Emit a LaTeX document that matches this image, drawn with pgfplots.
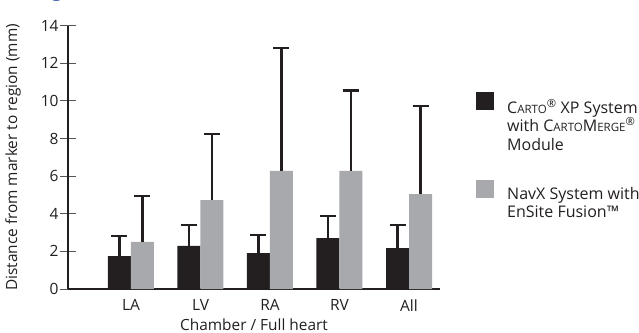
\documentclass[border=0pt]{standalone}
\usepackage{pgfplots}
\pgfplotsset{compat=1.18}
\usepackage{fontspec}
\setmainfont{Open Sans}
\definecolor{barblack}{HTML}{231F20}
\definecolor{bargray}{HTML}{A7A9AC}
\definecolor{txt}{HTML}{231F20}
\definecolor{tickc}{HTML}{555555}
\definecolor{titleblue}{HTML}{1B3F94}
\newcommand{\fsc}[2]{#1{\fontsize{11.5bp}{12bp}\selectfont #2}}
\newcommand{\tfont}{\fontsize{15.5bp}{17bp}\selectfont}
\pgfplotsset{myerr/.style={error bars/.cd, y dir=plus, y explicit,
  error bar style={line width=2.5bp, color=barblack},
  error mark options={rotate=90, mark size=8bp, line width=2.2bp, color=barblack}}}
\begin{document}
\begin{tikzpicture}
\begin{axis}[
  at={(68bp,44bp)}, anchor=south west,
  scale only axis, width=372bp, height=263.3bp,
  xmin=-0.906, xmax=4.446, ymin=0, ymax=14,
  axis lines=left, axis line style={-, line width=2.5bp, color=barblack},
  ybar=0pt, bar width=23bp,
  xtick={0,1,2,3,4}, xticklabels={LA,LV,RA,RV,All},
  major x tick style={draw=none},
  ytick={0,2,...,14},
  tick align=center, major tick length=16bp,
  major y tick style={line width=0.9bp, color=tickc},
  every tick label/.style={font=\tfont, color=txt},
  /pgf/number format/assume math mode=true,
  every x tick label/.append style={font=\tfont, color=txt, yshift=1bp},
  every y tick label/.append style={font=\tfont, color=txt, xshift=2bp},
  xlabel={Chamber / Full heart},
  ylabel={Distance from marker to region (mm)},
  every axis x label/.append style={font=\fontsize{15.4bp}{17bp}\selectfont, text=txt, yshift=-1bp},
  every axis y label/.append style={font=\fontsize{15.4bp}{17bp}\selectfont, text=txt, yshift=13bp},
  clip=false,
  legend style={draw=none, fill=none, at={(1,1)}, anchor=north west,
    xshift=33bp, yshift=-64bp,
    font=\fontsize{16bp}{18.5bp}\selectfont, text=txt,
    nodes={align=left, anchor=north west}, row sep=26bp,
    /tikz/every odd column/.append style={column sep=11bp}},
  legend cell align=left,
  legend image code/.code={\fill[#1] (0bp,-13bp) rectangle (18bp,5bp);},
]
\addplot[fill=barblack, draw=none, myerr] coordinates {
  (0,1.75) +- (0,1.08)
  (1,2.29) +- (0,1.13)
  (2,1.91) +- (0,0.98)
  (3,2.70) +- (0,1.20)
  (4,2.18) +- (0,1.22)
};
\addlegendentry{\fsc{C}{ARTO}\textsuperscript{®} XP System\\with \fsc{C}{ARTO}\fsc{M}{ERGE}\textsuperscript{®}\\Module}
\addplot[fill=bargray, draw=none, myerr] coordinates {
  (0,2.50) +- (0,2.45)
  (1,4.73) +- (0,3.51)
  (2,6.28) +- (0,6.52)
  (3,6.28) +- (0,4.27)
  (4,5.05) +- (0,4.68)
};
\addlegendentry{NavX System with\\EnSite Fusion™}
\end{axis}
\node[anchor=base, inner sep=0pt, text=titleblue, font=\bfseries\fontsize{20bp}{22bp}\selectfont] at (57bp,336bp) {g};
\pgfresetboundingbox
\path (0,0) rectangle (639bp,333bp);
\end{tikzpicture}
\end{document}
